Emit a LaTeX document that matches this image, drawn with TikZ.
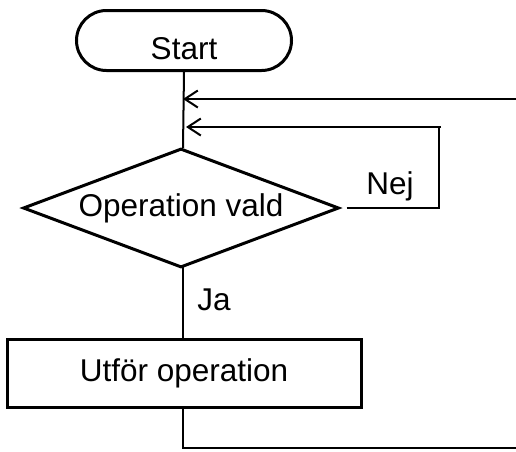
\documentclass[tikz,border=0pt]{standalone}
\usepackage{fontspec}
\setmainfont{Liberation Sans}
\usetikzlibrary{shapes.geometric,shapes.misc,arrows.meta}
\begin{document}
\begin{tikzpicture}[x=1pt,y=-1pt,
  every node/.style={font=\fontsize{31.5}{37}\selectfont},
  shapeline/.style={draw=black,line width=3pt,inner sep=0pt},
  termbox/.style={shapeline,rounded rectangle,minimum width=215pt,minimum height=60pt,text height=37pt,text depth=0pt},
  decbox/.style={shapeline,diamond,aspect=2.65,minimum width=316pt,minimum height=119pt},
  procbox/.style={shapeline,rectangle,minimum width=354pt,minimum height=68pt},
  conn/.style={draw=black,line width=2pt},
  arr/.style={conn,-{Straight Barb[length=13pt,width=17pt,line width=2pt]}},
  lbl/.style={inner sep=0pt}]
\useasboundingbox (0,0) rectangle (516,451);
\node[termbox] (start) at (184,40.5) {Start};
\node[decbox] (dia) at (181,208) {Operation vald};
\node[procbox] (box) at (184,373) {Utför operation};
\coordinate (r1) at (518,99);
\coordinate (t1) at (183,99);
\coordinate (c1) at (439,208);
\coordinate (t2) at (186,127);
\coordinate (e1) at (518,448);
\node[lbl] (nej) at (390,186) {Nej};
\node[lbl] (ja) at (214,300) {Ja};
\draw[conn] (start.south) -- (183,148);
\draw[arr] (r1) -- (t1);
\draw[conn,shorten <=6pt] (dia.east) -- (c1) |- (441,127);
\draw[arr] (441,127) -- (t2);
\draw[conn] (183,267) -- (box.north -| 183,0);
\draw[conn] (box.south -| 183,0) |- (e1);
\end{tikzpicture}
\end{document}
